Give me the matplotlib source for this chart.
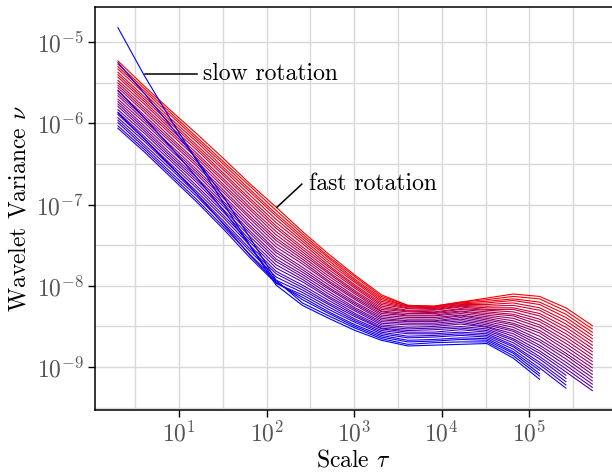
import os

os.environ.setdefault("MPLCONFIGDIR", "/tmp/matplotlib")

import numpy as np
import matplotlib

matplotlib.use("Agg")
import matplotlib.pyplot as plt
from matplotlib.ticker import FixedLocator, FuncFormatter, NullFormatter

plt.rcParams["font.family"] = "serif"
plt.rcParams["font.serif"] = ["cmr10"]
plt.rcParams["mathtext.fontset"] = "cm"
plt.rcParams["axes.unicode_minus"] = False

# dyadic scales tau
scales = [2, 4, 8, 16, 32, 64, 128, 256, 512, 1024, 2048, 4096, 8192,
          16384, 32768, 65536, 131072, 262144, 524288]

# log10 of the wavelet variance, one row per signal, slow (blue) -> fast (red)
wv_log10 = [
    [-4.82, -5.41, -5.95, -6.46, -6.98, -7.50, -7.99, -8.24, -8.40, -8.55, -8.67, -8.74, -8.73, -8.72, -8.71, -8.89, -9.15],
    [-5.25, -5.63, -6.03, -6.45, -6.90, -7.40, -7.93, -8.21, -8.37, -8.52, -8.65, -8.72, -8.70, -8.69, -8.69, -8.86, -9.11],
    [-5.59, -5.93, -6.29, -6.67, -7.07, -7.50, -7.95, -8.17, -8.34, -8.50, -8.63, -8.69, -8.68, -8.66, -8.67, -8.83, -9.08],
    [-5.87, -6.19, -6.52, -6.87, -7.24, -7.62, -7.96, -8.14, -8.32, -8.48, -8.61, -8.67, -8.66, -8.64, -8.65, -8.81, -9.04],
    [-6.06, -6.35, -6.66, -6.97, -7.30, -7.65, -7.97, -8.11, -8.29, -8.45, -8.59, -8.64, -8.63, -8.61, -8.63, -8.78, -9.01, -9.26],
    [-6.03, -6.32, -6.63, -6.94, -7.27, -7.61, -7.93, -8.08, -8.26, -8.43, -8.57, -8.62, -8.61, -8.59, -8.61, -8.75, -8.97, -9.22],
    [-5.99, -6.29, -6.60, -6.90, -7.23, -7.57, -7.89, -8.05, -8.23, -8.41, -8.55, -8.59, -8.59, -8.57, -8.59, -8.73, -8.94, -9.18],
    [-5.96, -6.26, -6.56, -6.87, -7.20, -7.54, -7.85, -8.02, -8.21, -8.38, -8.53, -8.57, -8.57, -8.54, -8.57, -8.70, -8.90, -9.14],
    [-5.93, -6.22, -6.53, -6.84, -7.16, -7.50, -7.82, -7.99, -8.18, -8.36, -8.52, -8.55, -8.54, -8.52, -8.55, -8.67, -8.87, -9.10],
    [-5.89, -6.19, -6.50, -6.80, -7.13, -7.46, -7.78, -7.95, -8.15, -8.34, -8.50, -8.53, -8.52, -8.50, -8.53, -8.65, -8.83, -9.06, -9.29],
    [-5.86, -6.16, -6.46, -6.77, -7.09, -7.43, -7.74, -7.92, -8.13, -8.31, -8.48, -8.51, -8.50, -8.47, -8.51, -8.62, -8.80, -9.02, -9.25],
    [-5.83, -6.12, -6.43, -6.73, -7.06, -7.39, -7.70, -7.89, -8.10, -8.29, -8.46, -8.48, -8.48, -8.45, -8.50, -8.59, -8.76, -8.98, -9.21],
    [-5.79, -6.09, -6.40, -6.70, -7.02, -7.35, -7.67, -7.86, -8.07, -8.27, -8.44, -8.46, -8.46, -8.43, -8.48, -8.56, -8.73, -8.94, -9.17],
    [-5.76, -6.06, -6.37, -6.67, -6.99, -7.32, -7.63, -7.83, -8.04, -8.24, -8.42, -8.44, -8.44, -8.41, -8.46, -8.54, -8.69, -8.90, -9.13],
    [-5.73, -6.03, -6.33, -6.63, -6.96, -7.28, -7.59, -7.80, -8.02, -8.22, -8.40, -8.43, -8.43, -8.39, -8.44, -8.51, -8.66, -8.86, -9.09],
    [-5.70, -5.99, -6.30, -6.60, -6.92, -7.25, -7.56, -7.77, -7.99, -8.20, -8.38, -8.41, -8.41, -8.37, -8.42, -8.48, -8.62, -8.83, -9.05],
    [-5.66, -5.96, -6.27, -6.57, -6.89, -7.21, -7.52, -7.73, -7.96, -8.17, -8.36, -8.39, -8.39, -8.36, -8.40, -8.46, -8.58, -8.79, -9.01],
    [-5.63, -5.93, -6.23, -6.53, -6.85, -7.17, -7.48, -7.70, -7.94, -8.15, -8.34, -8.37, -8.37, -8.34, -8.38, -8.43, -8.55, -8.75, -8.97],
    [-5.60, -5.90, -6.20, -6.50, -6.82, -7.14, -7.44, -7.67, -7.91, -8.13, -8.32, -8.36, -8.36, -8.32, -8.36, -8.40, -8.51, -8.71, -8.93],
    [-5.56, -5.86, -6.17, -6.47, -6.78, -7.10, -7.41, -7.64, -7.88, -8.10, -8.31, -8.34, -8.34, -8.31, -8.34, -8.37, -8.48, -8.67, -8.89],
    [-5.53, -5.83, -6.13, -6.43, -6.75, -7.06, -7.37, -7.61, -7.85, -8.08, -8.29, -8.32, -8.33, -8.29, -8.32, -8.35, -8.44, -8.63, -8.85],
    [-5.50, -5.80, -6.10, -6.40, -6.71, -7.03, -7.33, -7.58, -7.83, -8.06, -8.27, -8.31, -8.32, -8.28, -8.30, -8.32, -8.41, -8.59, -8.81],
    [-5.47, -5.76, -6.07, -6.37, -6.68, -6.99, -7.29, -7.55, -7.80, -8.03, -8.25, -8.30, -8.30, -8.26, -8.29, -8.29, -8.37, -8.55, -8.77],
    [-5.43, -5.73, -6.04, -6.33, -6.64, -6.95, -7.26, -7.52, -7.77, -8.01, -8.23, -8.28, -8.29, -8.25, -8.27, -8.27, -8.34, -8.51, -8.73],
    [-5.40, -5.70, -6.00, -6.30, -6.61, -6.92, -7.22, -7.48, -7.75, -7.99, -8.21, -8.27, -8.28, -8.24, -8.25, -8.24, -8.30, -8.47, -8.69],
    [-5.37, -5.67, -5.97, -6.27, -6.57, -6.88, -7.18, -7.45, -7.72, -7.96, -8.19, -8.26, -8.27, -8.23, -8.23, -8.21, -8.27, -8.43, -8.65],
    [-5.33, -5.63, -5.94, -6.23, -6.54, -6.84, -7.14, -7.42, -7.69, -7.94, -8.17, -8.25, -8.26, -8.22, -8.21, -8.18, -8.23, -8.39, -8.61],
    [-5.30, -5.60, -5.90, -6.20, -6.50, -6.81, -7.11, -7.39, -7.66, -7.92, -8.15, -8.25, -8.26, -8.21, -8.19, -8.16, -8.20, -8.35, -8.57],
    [-5.27, -5.57, -5.87, -6.17, -6.47, -6.77, -7.07, -7.36, -7.64, -7.89, -8.13, -8.24, -8.25, -8.20, -8.17, -8.13, -8.16, -8.31, -8.53],
    [-5.23, -5.54, -5.84, -6.13, -6.43, -6.74, -7.03, -7.33, -7.61, -7.87, -8.11, -8.24, -8.25, -8.20, -8.15, -8.10, -8.13, -8.27, -8.49],
]

x_ticks = [1e1, 1e2, 1e3, 1e4, 1e5]
y_ticks = [1e-9, 1e-8, 1e-7, 1e-6, 1e-5]

fig = plt.figure(figsize=(6.12, 4.74), dpi=100)
ax = fig.add_axes([0.155, 0.135, 0.845, 0.85])

n_lines = len(wv_log10)
for i in reversed(range(n_lines)):
    row = wv_log10[i]
    f = i / (n_lines - 1)
    ax.plot(scales[:len(row)], 10.0 ** np.array(row), color=(f, 0.0, 1.0 - f), lw=0.8)

ax.set_xscale("log")
ax.set_yscale("log")
ax.set_xlim(1.09, 8.8e5)
ax.set_ylim(2.96e-10, 2.71e-5)

ax.xaxis.set_major_locator(FixedLocator(x_ticks))
ax.yaxis.set_major_locator(FixedLocator(y_ticks))
ax.xaxis.set_minor_locator(FixedLocator([10 ** (k + 0.5) for k in range(0, 6)]))
ax.yaxis.set_minor_locator(FixedLocator([10 ** (-k - 0.5) for k in range(4, 10)]))
ax.xaxis.set_minor_formatter(NullFormatter())
ax.yaxis.set_minor_formatter(NullFormatter())
fmt = FuncFormatter(lambda v, p: r"$10^{%d}$" % round(np.log10(v)))
ax.xaxis.set_major_formatter(fmt)
ax.yaxis.set_major_formatter(fmt)

ax.grid(which="both", color="#d9d9d9", lw=1.0)
ax.set_axisbelow(True)
ax.tick_params(which="major", direction="out", length=5, width=1.0,
               color="black", labelcolor="#555555", labelsize=17, pad=3)
ax.tick_params(which="minor", length=0)
for side in ("left", "bottom", "top"):
    ax.spines[side].set_linewidth(1.1)
ax.spines["right"].set_visible(False)

ax.set_xlabel(r"Scale $\tau$", fontsize=17, labelpad=2)
ax.set_ylabel(r"Wavelet Variance $\nu$", fontsize=17, labelpad=4)

# annotations
ax.plot([4.06, 15.9], [4.04e-6, 4.04e-6], color="black", lw=1.1)
ax.text(18.7, 4.04e-6, "slow rotation", fontsize=17, va="center", ha="left")
ax.plot([131, 252], [9.3e-8, 1.79e-7], color="black", lw=1.1)
ax.text(303, 1.79e-7, "fast rotation", fontsize=17, va="center", ha="left")

fig.savefig("out.png", dpi=100)
